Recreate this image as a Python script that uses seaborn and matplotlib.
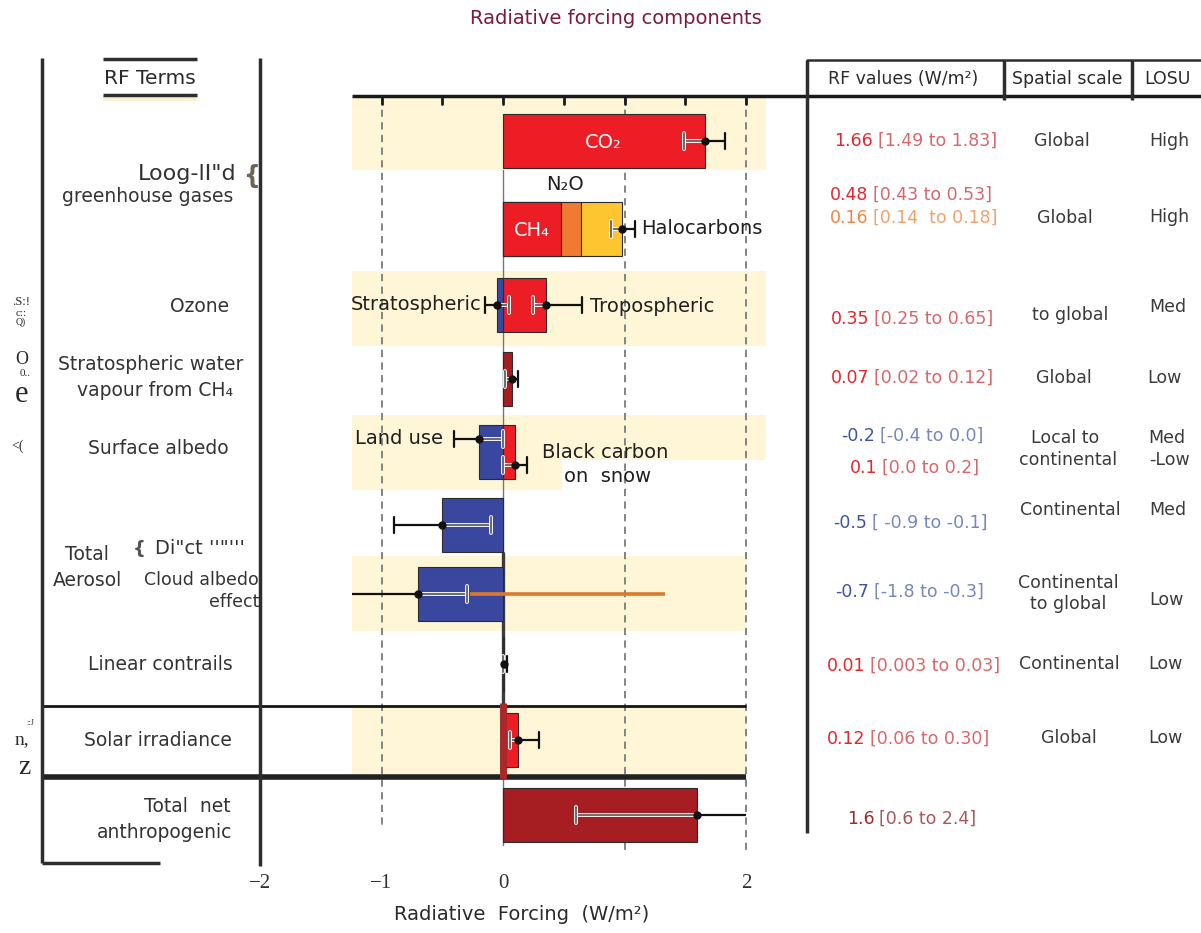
import numpy as np
import pandas as pd
import matplotlib
matplotlib.use("Agg")
import matplotlib.pyplot as plt
import matplotlib.patheffects as pe
from matplotlib.transforms import Bbox, TransformedBbox
import seaborn as sns

# ------------------------------------------------------------------ data
seg_terms = ["CO2", "CH4", "N2O", "Halocarbons",
             "Stratospheric ozone", "Tropospheric ozone",
             "Stratospheric water vapour", "Land use", "Black carbon on snow",
             "Direct effect", "Cloud albedo effect", "Linear contrails",
             "Solar irradiance", "Total net anthropogenic"]
seg_row = [0, 1, 1, 1, 2, 2, 3, 4, 4, 5, 6, 7, 8, 9]
seg_rf = [1.66, 0.48, 0.16, 0.34, -0.05, 0.35, 0.07, -0.20, 0.10,
          -0.50, -0.70, 0.01, 0.12, 1.60]
seg_low = [1.49, 0.43, 0.14, 0.25, -0.15, 0.25, 0.02, -0.40, 0.00,
           -0.90, -1.80, 0.003, 0.06, 0.60]
seg_high = [1.83, 0.53, 0.18, 0.45, 0.05, 0.65, 0.12, 0.00, 0.20,
            -0.10, -0.30, 0.03, 0.30, 2.40]
seg_whisker = [True, False, False, True, True, True, True, True, True,
               True, True, True, True, True]
cloud_ghe = [-0.27, 1.33]

tbl_value = ["1.66", "0.48", "0.16", "0.35", "0.07", "-0.2", "0.1",
             "-0.5", "-0.7", "0.01", "0.12", "1.6"]
tbl_range = ["[1.49 to 1.83]", "[0.43 to 0.53]", "[0.14  to 0.18]",
             "[0.25 to 0.65]", "[0.02 to 0.12]", "[-0.4 to 0.0]",
             "[0.0 to 0.2]", "[ -0.9 to -0.1]", "[-1.8 to -0.3]",
             "[0.003 to 0.03]", "[0.06 to 0.30]", "[0.6 to 2.4]"]
tbl_tone = ["red", "red", "orange", "red", "red", "blue", "red",
            "blue", "blue", "red", "red", "dark"]

scale_text = ["Global", "Global", "to global", "Global", "Local to",
              "continental", "Continental", "Continental", "to global",
              "Continental", "Global"]
losu_text = ["High", "High", "Med", "Low", "Med", "-Low", "Med", "Low",
             "Low", "Low"]

xtick_values = [-2, -1, 0, 2]

# ---------------------------------------------------------------- styling
RED, ORANGE, YELLOW = "#EC1D25", "#EE7B31", "#FDC52F"
BLUE, DARK = "#3A479E", "#A61D22"
BAND = "#FEF6D6"
seg_color = [RED, RED, ORANGE, YELLOW, BLUE, RED, DARK, BLUE, RED, BLUE,
             BLUE, DARK, RED, DARK]
tone_main = {"red": "#E2262D", "orange": "#EE8543", "blue": "#3B55A0",
             "dark": "#A3262B"}
tone_range = {"red": "#D8676C", "orange": "#F0A26C", "blue": "#7587BC",
              "dark": "#A8575B"}
INK = "#333333"

sns.set_theme(style="white")
plt.rcParams["font.family"] = ["DejaVu Sans"]
plt.rcParams["axes.unicode_minus"] = True

W, H = 1201, 933
fig = plt.figure(figsize=(W / 100, H / 100), dpi=100)
fig.patch.set_facecolor("white")

ax = fig.add_axes([0, 0, 1, 1])
ax.set_facecolor("none")
pxa = fig.add_axes([0, 0, 1, 1])
pxa.set_xlim(0, W)
pxa.set_ylim(H, 0)
pxa.set_axis_off()
P = pxa.transData          # page (pixel) coordinates

ZERO_PX, UNIT_PX = 503.0, 121.5


def xdat(p):
    return (p - ZERO_PX) / UNIT_PX


row_y = [141, 229, 305, 379, 452, 525, 594, 664, 740, 815]
bar_h = 54
whisker_dy = [0, 0, 0, 0, 0, 0, 0, -13, 13, 0, 0, 0, 0, 0]
PANEL_L, PANEL_R, LOWER_R = xdat(352), xdat(766), 2.0

# shaded rows
bands = [(97, 170, PANEL_L, PANEL_R), (271, 346, PANEL_L, PANEL_R),
         (415, 460, PANEL_L, PANEL_R), (460, 490, PANEL_L, xdat(562)),
         (556, 631, PANEL_L, LOWER_R), (706, 777, PANEL_L, LOWER_R)]
for y0, y1, x0, x1 in bands:
    ax.fill_between([x0, x1], y0, y1, color=BAND, lw=0, zorder=0)

# dashed reference lines and zero line
for v, y_end in [(-1, 830), (1, 855), (2, 855)]:
    ax.plot([v, v], [97, y_end], color="#7a7a7a", lw=1.3, ls=(0, (4, 3)),
            zorder=1)
ax.plot([0, 0], [170, 845], color="#777777", lw=1.0, zorder=1)
ax.plot([0, 0], [553, 712], color="#3c3c3c", lw=2.4, zorder=1.5)

# ---------------------------------------------------------------- bars
df = pd.DataFrame({"term": seg_terms, "row": seg_row, "rf": seg_rf,
                   "low": seg_low, "high": seg_high})
base = []
acc = {}
for r, v in zip(seg_row, seg_rf):
    key = (r, v >= 0)
    base.append(acc.get(key, 0.0))
    acc[key] = acc.get(key, 0.0) + v
df["base"] = base
df["extent"] = df["base"] + df["rf"]
df["ypos"] = [row_y[r] for r in seg_row]
draw_order = df.loc[df["extent"].abs().sort_values(ascending=False).index,
                    "term"].tolist()
min_gap = np.min(np.diff(sorted(set(row_y))))

sns.barplot(data=df, x="extent", y="ypos", hue="term", hue_order=draw_order,
            palette=dict(zip(seg_terms, seg_color)), orient="h",
            native_scale=True, dodge=False, width=bar_h / min_gap,
            saturation=1, errorbar=None, legend=False,
            edgecolor="#2b2b2b", linewidth=0.8, ax=ax)
for p in ax.patches:
    p.set_zorder(2)

# cloud greenhouse effect range
ax.plot(cloud_ghe, [row_y[6]] * 2, color="#D8792E", lw=2.6, zorder=5,
        solid_capstyle="butt")

# whiskers: part inside the bar in grey, outer part in black
halo = [pe.Stroke(linewidth=2.8, foreground="white"), pe.Normal()]
for i, row in df.iterrows():
    if not seg_whisker[i]:
        continue
    y = row["ypos"] + whisker_dy[i]
    c = row["extent"]
    lo, hi = row["base"] + row["low"], row["base"] + row["high"]
    inner, outer = (lo, hi) if row["rf"] >= 0 else (hi, lo)
    outer_c = float(np.clip(outer, PANEL_L, LOWER_R))
    ax.plot([inner, c], [y, y], color="#6e6e6e", lw=1.5, path_effects=halo,
            zorder=6, solid_capstyle="butt")
    ax.plot([inner, inner], [y - 8, y + 8], color="#6e6e6e", lw=1.5,
            path_effects=halo, zorder=6)
    ax.plot([c, outer_c], [y, y], color="#111111", lw=1.6, zorder=6,
            solid_capstyle="butt")
    if outer_c == outer:
        ax.plot([outer, outer], [y - 8, y + 8], color="#111111", lw=1.6,
                zorder=6)
    ax.plot([c], [y], "o", color="#111111", ms=5, zorder=7)

# solar zero marker and separators
ax.plot([42, 746], [706, 706], transform=P, color="#151515", lw=2,
        zorder=4, solid_capstyle="butt")
ax.plot([42, 746], [777, 777], transform=P, color="#222222", lw=4,
        zorder=4, solid_capstyle="butt")
ax.plot([0, 0], [703, 779], color="#A8282C", lw=5, zorder=5,
        solid_capstyle="butt")

# top scale line with ticks
ax.plot([352, 1201], [96, 96], transform=P, color="#1a1a1a", lw=2.5,
        zorder=4, solid_capstyle="butt")
for v in np.arange(-1, 2.01, 0.5):
    ax.plot([v, v], [96, 104], color="#1a1a1a", lw=2, zorder=4)

# frames
frame_kw = dict(transform=P, color="#2e2e2e", lw=2.5, zorder=4,
                solid_capstyle="butt")
ax.plot([42, 42], [58, 863], **frame_kw)
ax.plot([260, 260], [58, 866], **frame_kw)
ax.plot([42, 160], [863, 863], **frame_kw)
ax.plot([807, 807], [60, 833], **frame_kw)
ax.plot([1004, 1004], [60, 100], **frame_kw)
ax.plot([1132, 1132], [60, 100], **frame_kw)
ax.plot([807, 1201], [60, 60], transform=P, color="#2e2e2e", lw=1.8,
        zorder=4)
ax.plot([103, 197], [59, 59], **frame_kw)
ax.plot([103, 197], [95, 95], **frame_kw)
ax.fill_between([103, 197], 96, 101, transform=P, color="#FBF0CF", lw=0,
                zorder=0)

# ---------------------------------------------------------------- text
ax.text(616, 18, "Radiative forcing components", transform=P, ha="center",
        va="center", fontsize=14, color="#7A1C3C", zorder=8)
ax.text(150, 78, "RF Terms", transform=P, ha="center", va="center",
        fontsize=14.5, color="#2a2a2a", zorder=8)

left_labels = [
    ('Loog-lI"d', 237, 174, "right", 16),
    ("greenhouse gases", 233, 197, "right", 13.5),
    ("Ozone", 200, 307, "center", 13.5),
    ("Stratospheric water", 151, 364, "center", 13.5),
    ("vapour from CH\u2084", 155, 390, "center", 13.5),
    ("Surface albedo", 158, 449, "center", 13.5),
    ("Total", 87, 555, "center", 13.5),
    ("Aerosol", 87, 580, "center", 13.5),
    ("Di\"ct ''\"'''", 155, 548, "left", 14),
    ("Cloud albedo", 259, 580, "right", 12.5),
    ("effect", 259, 602, "right", 12.5),
    ("Linear contrails", 160, 664, "center", 13.5),
    ("Solar irradiance", 158, 740, "center", 13.5),
    ("Total  net", 231, 807, "right", 13.5),
    ("anthropogenic", 232, 832, "right", 13.5),
]
for s, x, y, ha, fs in left_labels:
    ax.text(x, y, s, transform=P, ha=ha, va="center", fontsize=fs,
            color=INK, zorder=8)
ax.text(251, 176, "{", transform=P, ha="center", va="center", fontsize=17,
        color="#6B6450", fontweight="bold", zorder=8)
ax.text(139, 549, "{", transform=P, ha="center", va="center", fontsize=13,
        color="#555555", fontweight="bold", zorder=8)

side_marks = [(".S:!", 21, 302, 9), ("c::", 21, 313, 8), ("Q)", 21, 322, 7),
              ("O", 22, 359, 13), ("0..", 25, 373, 8), ("e", 22, 394, 22),
              ("<(", 18, 446, 10), ("::J", 30, 723, 6), ("n,", 22, 740, 14),
              ("z", 24, 767, 20)]
for s, x, y, fs in side_marks:
    ax.text(x, y, s, transform=P, ha="center", va="center", fontsize=fs,
            family="Liberation Serif", color="#2a2a2a", zorder=8)

# labels inside the bar panel
chart_labels = [
    ("CO\u2082", 603, 142, "center", "white"),
    ("CH\u2084", 532, 231, "center", "white"),
    ("N\u2082O", 565, 184, "center", "#1f1f1f"),
    ("Halocarbons", 641, 229, "left", "#1f1f1f"),
    ("Stratospheric", 482, 305, "right", "#1f1f1f"),
    ("Tropospheric", 590, 307, "left", "#1f1f1f"),
    ("Land use", 443, 439, "right", "#1f1f1f"),
    ("Black carbon", 542, 452, "left", "#1f1f1f"),
    ("on  snow", 564, 477, "left", "#1f1f1f"),
]
for s, x, y, ha, col in chart_labels:
    ax.text(x, y, s, transform=P, ha=ha, va="center", fontsize=14,
            color=col, zorder=8)
cge = ax.text(533, 578, "Cloud Greenhouse Effect", transform=P, ha="left",
              va="center", fontsize=13, color="#474747", zorder=8)
cge.set_clip_box(TransformedBbox(Bbox([[352, 610], [748, 550]]), P))
cge.set_clip_on(True)

# axis ticks and label
for v in xtick_values:
    ax.text(v, 884, f"{v}".replace("-", "\u2212"), ha="center", va="center",
            fontsize=15, family="Liberation Serif", color="#333333",
            zorder=8)
ax.text(522, 915, "Radiative  Forcing  (W/m\u00b2)", transform=P,
        ha="center", va="center", fontsize=14, color="#2a2a2a", zorder=8)

# table header
for s, x in [("RF values (W/m\u00b2)", 903), ("Spatial scale", 1067),
             ("LOSU", 1167)]:
    ax.text(x, 79, s, transform=P, ha="center", va="center", fontsize=12.5,
            color="#2a2a2a", zorder=8)

tbl_y = [141, 195, 218, 319, 378, 436, 468, 523, 592, 666, 739, 819]
tbl_x = [834, 830, 830, 831, 831, 841, 850, 833, 835, 827, 827, 847]
for val, rng, tone, x, y in zip(tbl_value, tbl_range, tbl_tone, tbl_x,
                                tbl_y):
    t = ax.text(x, y, val, transform=P, ha="left", va="center",
                fontsize=12.5, color=tone_main[tone], zorder=8)
    ax.annotate(rng, xy=(1, 0), xycoords=t, xytext=(3.5, 0),
                textcoords="offset points", ha="left", va="bottom",
                fontsize=12.5, color=tone_range[tone], zorder=8)

scale_pos = [(1062, 141), (1065, 218), (1070, 315), (1064, 378), (1065, 438),
             (1068, 460), (1070, 510), (1068, 583), (1068, 604), (1069, 664),
             (1069, 738)]
for s, (x, y) in zip(scale_text, scale_pos):
    ax.text(x, y, s, transform=P, ha="center", va="center", fontsize=12.5,
            color="#3a3a3a", zorder=8)
losu_pos = [(1169, 141), (1169, 217), (1168, 307), (1164, 378), (1167, 438),
            (1169, 460), (1168, 510), (1166, 600), (1165, 664), (1165, 738)]
for s, (x, y) in zip(losu_text, losu_pos):
    ax.text(x, y, s, transform=P, ha="center", va="center", fontsize=12.5,
            color="#3a3a3a", zorder=8)

# ---------------------------------------------------------------- axes
ax.set_xlim(xdat(0), xdat(W))
ax.set_ylim(H, 0)
ax.set_axis_off()

fig.savefig("out.png", dpi=100, facecolor="white")
